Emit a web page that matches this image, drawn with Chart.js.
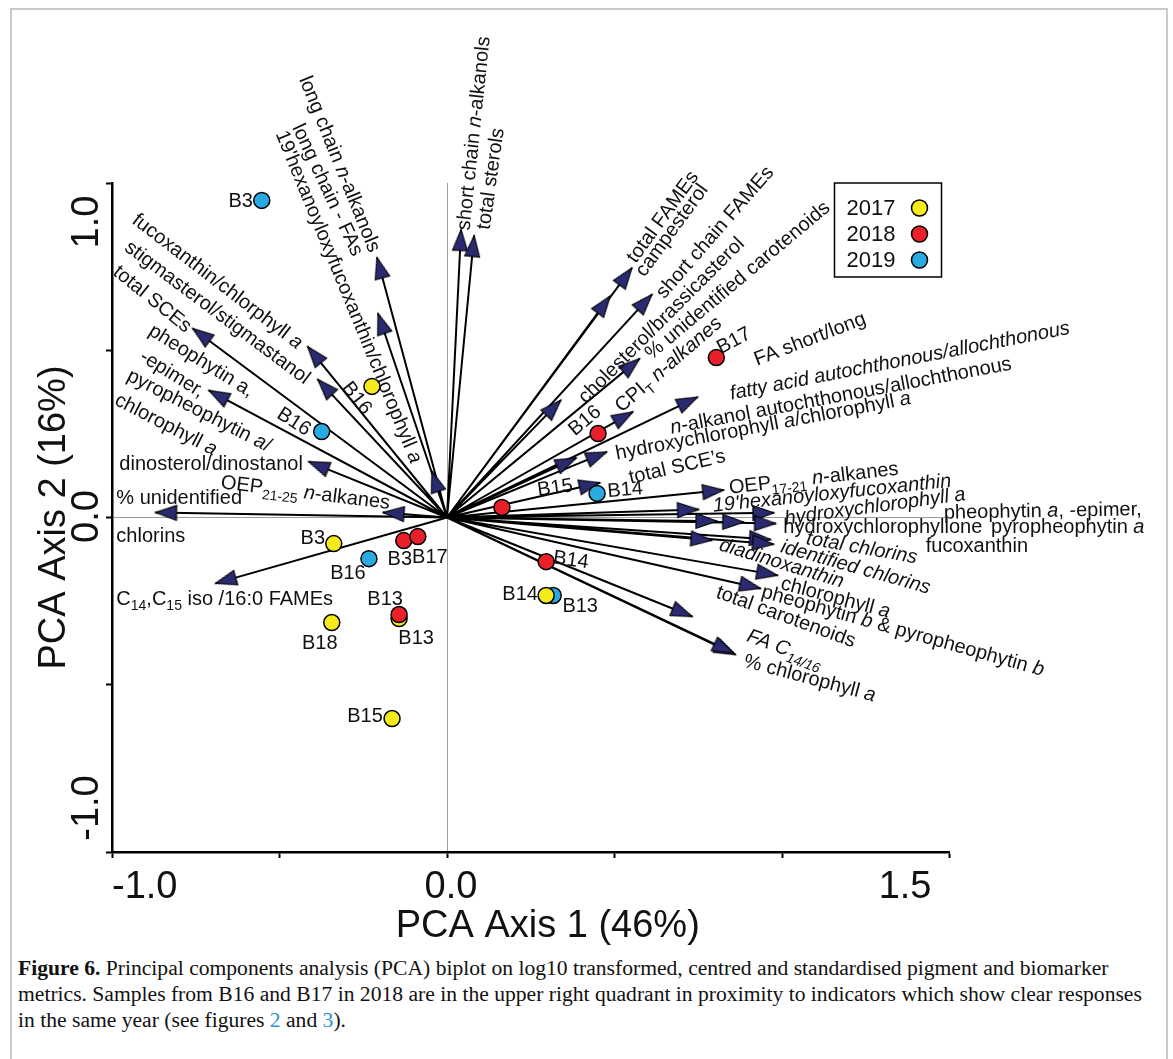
<!DOCTYPE html>
<html>
<head>
<meta charset="utf-8">
<script src="https://cdn.jsdelivr.net/npm/chart.js@4.4.1/dist/chart.umd.min.js"></script>
<style>
  html, body { margin: 0; padding: 0; background: #fff; }
  #wrap { position: relative; width: 1173px; height: 1059px; overflow: hidden; }
  #frame { position: absolute; left: 10px; top: 8px; width: 1154px; height: 1100px; border: 2px solid #c9c9c9; }
  canvas { position: absolute; left: 0; top: 0; }
  #caption { position: absolute; left: 18px; top: 955px; font: 21.6px/26px "Liberation Serif", "Times New Roman", serif; color: #111; white-space: nowrap; }
  #caption a { color: #2b8fd6; text-decoration: none; }
</style>
</head>
<body>
<div id="wrap">
  <div id="frame"></div>
  <canvas id="pca" width="1173" height="945"></canvas>
  <div id="caption"><b>Figure 6.</b> Principal components analysis (PCA) biplot on log10 transformed, centred and standardised pigment and biomarker<br>metrics. Samples from B16 and B17 in 2018 are in the upper right quadrant in proximity to indicators which show clear responses<br>in the same year (see figures <a>2</a> and <a>3</a>).</div>
</div>
<script>
// sample scores (site, year, axis 1, axis 2)
const sampleSites = ["B3", "B16", "B16", "B3", "B3", "B17", "B16", "B13", "B13", "B18", "B15", "B17", "B16", "B14", "B15", "B14", "B13", "B14"];
const sampleYears = [2019, 2017, 2019, 2017, 2018, 2018, 2019, 2017, 2018, 2017, 2017, 2018, 2018, 2019, 2018, 2018, 2019, 2017];
const samplePc1 = [-0.553, -0.224, -0.374, -0.338, -0.129, -0.087, -0.233, -0.143, -0.143, -0.344, -0.164, 0.804, 0.451, 0.448, 0.164, 0.296, 0.317, 0.296];
const samplePc2 = [0.948, 0.392, 0.257, -0.078, -0.069, -0.057, -0.123, -0.302, -0.290, -0.314, -0.601, 0.478, 0.251, 0.072, 0.030, -0.132, -0.233, -0.233];

const years = [2017, 2018, 2019];
const yearColours = ["#f4ea1c", "#e8202a", "#29abe2"];

// variable loadings (arrow tips)
const variableNames = [
  "long chain n-alkanols", "long chain - FAs", "19'hexanoyloxyfucoxanthin/chlorophyll a",
  "fucoxanthin/chlorphyll a", "stigmasterol/stigmastanol", "total SCEs",
  "pheophytin a, -epimer, pyropheophytin a/chlorophyll a", "dinosterol/dinostanol",
  "OEP21-25 n-alkanes", "% unidentified chlorins", "C14,C15 iso /16:0 FAMEs",
  "short chain n-alkanols", "total sterols", "total FAMEs", "campesterol",
  "short chain FAMEs", "cholesterol/brassicasterol", "% unidentified carotenoids",
  "CPIT n-alkanes", "fatty acid autochthonous/allochthonous",
  "n-alkanol autochthonous/allochthonous", "hydroxychlorophyll a/chlorophyll a",
  "total SCE's", "OEP17-21 n-alkanes", "19'hexanoyloxyfucoxanthin", "hydroxychlorophyll a",
  "pheophytin a, -epimer, pyropheophytin a", "hydroxychlorophyllone", "fucoxanthin",
  "diadinoxanthin", "total chlorins", "identified chlorins", "chlorophyll a",
  "pheophytin b & pyropheophytin b", "total carotenoids", "FA C14/16", "% chlorophyll a"
];
const variablePc1 = [-0.209, -0.206, -0.045, -0.416, -0.386, -0.759, -0.711, -0.413, -0.191, -0.870, -0.691,
  0.042, 0.081, 0.552, 0.487, 0.612, 0.340, 0.575, 0.555, 0.748, 0.386, 0.477, 0.457, 0.826, 0.751, 0.976,
  0.806, 0.886, 0.981, 0.791, 0.966, 0.975, 0.987, 0.936, 0.732, 0.861, 0.855];
const variablePc2 = [0.777, 0.610, 0.138, 0.511, 0.413, 0.565, 0.380, 0.167, 0.015, 0.015, -0.197,
  0.861, 0.843, 0.746, 0.662, 0.667, 0.351, 0.475, 0.316, 0.360, 0.178, 0.196, 0.104, 0.082, 0.024, 0.014,
  -0.011, -0.014, -0.018, -0.068, -0.066, -0.080, -0.173, -0.212, -0.296, -0.410, -0.405];

const xTickLabels = [-1.0, 0.0, 1.5];
const yTickLabels = [-1.0, 0.0, 1.0];

// label placement: [text, axis1, axis2, angle, align]  (*italic*, _{sub})
const variableLabels = [
  ["long chain *n*-alkanols", -0.317, 1.058, 68],
  ["long chain - FAs", -0.353, 0.981, 65],
  ["19'hexanoyloxyfucoxanthin/chlorophyll *a*", -0.290, 0.661, 67.7],
  ["fucoxanthin/chlorphyll *a*", -0.683, 0.709, 37.5],
  ["stigmasterol/stigmastanol", -0.683, 0.616, 36.8],
  ["total SCEs", -0.877, 0.656, 39],
  ["pheophytin a,", -0.731, 0.472, 32],
  ["-epimer,", -0.818, 0.433, 32],
  ["pyropheophytin *a*/", -0.738, 0.323, 27],
  ["chlorophyll *a*", -0.837, 0.281, 27.5],
  ["dinosterol/dinostanol", -0.978, 0.164, 0, "left"],
  ["OEP_{21-25} *n*-alkanes", -0.422, 0.078, 7],
  ["% unidentified", -0.987, 0.063, 0, "left"],
  ["chlorins", -0.987, -0.051, 0, "left"],
  ["C_{14},C_{15} iso /16:0 FAMEs", -0.987, -0.239, 0, "left"],
  ["short chain *n*-alkanols", 0.076, 1.149, -84],
  ["total sterols", 0.127, 1.013, -82],
  ["total FAMEs", 0.641, 0.901, -54],
  ["campesterol", 0.668, 0.861, -54],
  ["short chain FAMEs", 0.797, 0.855, -49],
  ["cholesterol/brassicasterol", 0.637, 0.592, -45],
  ["% unidentified carotenoids", 0.865, 0.712, -40],
  ["CPI_{T} *n-alkanes*", 0.659, 0.460, -41],
  ["FA short/long", 1.082, 0.537, -21],
  ["*fatty acid autochthonous/allochthonous*", 1.351, 0.472, -11],
  ["*n*-alkanol autochthonous/allochthonous", 1.175, 0.368, -10.7],
  ["hydroxychlorophyll *a*/chlorophyll *a*", 0.943, 0.278, -10.7],
  ["total SCE\u2019s", 0.686, 0.155, -13],
  ["OEP_{17-21} *n*-alkanes", 1.094, 0.121, -6.4],
  ["*19'hexanoyloxyfucoxanthin*", 1.149, 0.076, -6],
  ["*hydroxychlorophyll a*", 1.277, 0.037, -7.8],
  ["pheophytin *a*, -epimer,", 1.483, 0.018, -1, "left"],
  ["hydroxychlorophyllone", 1.004, -0.024, 0, "left"],
  ["pyropheophytin *a*", 1.624, -0.024, 0, "left"],
  ["fucoxanthin", 1.429, -0.081, 0, "left"],
  ["*total chlorins*", 1.239, -0.087, 10],
  ["*identified chlorins*", 1.221, -0.145, 15.7],
  ["*diadinoxanthin*", 1.000, -0.133, 17],
  ["chlorophyll *a*", 1.161, -0.236, 15],
  ["pheophytin *b* & pyropheophytin *b*", 1.362, -0.335, 15.7],
  ["total carotenoids", 1.013, -0.293, 20],
  ["*FA C_{14/16}*", 1.010, -0.389, 20],
  ["% chlorophyll *a*", 1.084, -0.477, 15]
];

// sample label offsets from the point, px: [dx, dy, angle]
const sampleLabelLayout = [
  [-21, -1, 0], [-14, 11, 52], [-27, -11, 33], [-21, -7, 0], [-4, 17, 0], [12, 19, 0],
  [-21, 13, 0], [17, 18, 0], [-14, -17, 0], [-12, 19, 0], [-27, -4, 0], [17, -18, -28],
  [-14, -14, -40], [28, -5, -5], [53, -21, -8], [25, -3, 8], [27, 9, 0], [-26, -3, 0]
];

const SANS = '"Liberation Sans", Arial, Helvetica, sans-serif';

function parseRich(str) {
  const runs = [];
  let italic = false;
  let buf = "";
  const push = () => {
    if (buf) runs.push({ t: buf, italic, sub: false });
    buf = "";
  };
  for (let i = 0; i < str.length; i++) {
    const ch = str[i];
    if (ch === "*") {
      push();
      italic = !italic;
    } else if (ch === "_" && str[i + 1] === "{") {
      push();
      const end = str.indexOf("}", i);
      runs.push({ t: str.slice(i + 2, end), italic, sub: true });
      i = end;
    } else {
      buf += ch;
    }
  }
  push();
  return runs;
}

function drawRich(ctx, str, x, y, angle, align, size) {
  const runs = parseRich(str);
  const fontFor = (r) => `${r.italic ? "italic " : ""}${r.sub ? Math.round(size * 0.68) : size}px ${SANS}`;
  let total = 0;
  runs.forEach((r) => {
    ctx.font = fontFor(r);
    r.w = ctx.measureText(r.t).width;
    total += r.w;
  });
  ctx.save();
  ctx.translate(x, y);
  ctx.rotate((angle * Math.PI) / 180);
  ctx.textBaseline = "alphabetic";
  ctx.textAlign = "left";
  let cx = align === "left" ? 0 : align === "right" ? -total : -total / 2;
  runs.forEach((r) => {
    ctx.font = fontFor(r);
    ctx.fillText(r.t, cx, size * 0.36 + (r.sub ? size * 0.28 : 0));
    cx += r.w;
  });
  ctx.restore();
}

function makeArrowHead() {
  const c = document.createElement("canvas");
  c.width = 50;
  c.height = 50;
  const g = c.getContext("2d");
  g.beginPath();
  g.moveTo(25, 25);
  g.lineTo(4, 17.5);
  g.lineTo(4, 32.5);
  g.closePath();
  g.fillStyle = "#2a2a70";
  g.fill();
  g.lineWidth = 1.2;
  g.strokeStyle = "#000";
  g.stroke();
  return c;
}
const arrowHead = makeArrowHead();

// one line dataset: origin -> tip, gap, origin -> tip, ...
const arrowData = [];
variableNames.forEach((name, i) => {
  arrowData.push({ x: 0, y: 0 });
  arrowData.push({ x: variablePc1[i], y: variablePc2[i] });
  arrowData.push({ x: 0, y: null });
});

const sampleData = sampleSites.map((site, i) => ({ x: samplePc1[i], y: samplePc2[i] }));
const sampleColours = sampleYears.map((yr) => yearColours[years.indexOf(yr)]);

const zeroGrid = (c) => (c.tick && c.tick.value === 0 ? "#9c9c9c" : "rgba(0,0,0,0)");

const annotations = {
  id: "annotations",
  afterDatasetsDraw(chart) {
    const { ctx, scales: { x, y } } = chart;
    ctx.save();
    ctx.fillStyle = "#111";
    variableLabels.forEach(([text, vx, vy, angle, align]) => {
      drawRich(ctx, text, x.getPixelForValue(vx), y.getPixelForValue(vy), angle, align || "center", 20);
    });
    ctx.restore();
  },
  afterDraw(chart) {
    const { ctx, chartArea, scales: { x, y } } = chart;
    ctx.save();
    ctx.fillStyle = "#111";

    // sample labels
    sampleSites.forEach((site, i) => {
      const [dx, dy, angle] = sampleLabelLayout[i];
      drawRich(ctx, site, x.getPixelForValue(samplePc1[i]) + dx, y.getPixelForValue(samplePc2[i]) + dy, angle, "center", 20);
    });

    // tick labels
    ctx.font = `38px ${SANS}`;
    ctx.textBaseline = "middle";
    const xAligns = ["left", "center", "right"];
    const xShift = [0, 4, -18];
    xTickLabels.forEach((v, i) => {
      ctx.textAlign = xAligns[i];
      ctx.fillText(v.toFixed(1), x.getPixelForValue(v) + xShift[i], chartArea.bottom + 36);
    });
    const yShift = [-44, -1, 39];
    yTickLabels.forEach((v, i) => {
      ctx.save();
      ctx.translate(chartArea.left - 24, y.getPixelForValue(v) + yShift[i]);
      ctx.rotate(-Math.PI / 2);
      ctx.textAlign = "center";
      ctx.fillText(v.toFixed(1), 0, 0);
      ctx.restore();
    });

    // axis titles
    ctx.textAlign = "center";
    ctx.fillText("PCA Axis 1 (46%)", (chartArea.left + chartArea.right) / 2 + 17, chartArea.bottom + 75);
    ctx.save();
    ctx.translate(chartArea.left - 57, (chartArea.top + chartArea.bottom) / 2);
    ctx.rotate(-Math.PI / 2);
    ctx.fillText("PCA Axis 2 (16%)", 0, 0);
    ctx.restore();

    // legend box
    const bx = chartArea.right - 115;
    const by = chartArea.top;
    ctx.lineWidth = 1.5;
    ctx.strokeStyle = "#000";
    ctx.strokeRect(bx, by, 107, 94);
    ctx.font = `22px ${SANS}`;
    ctx.textAlign = "left";
    years.forEach((yr, i) => {
      const ly = by + 25 + i * 26;
      ctx.fillStyle = "#111";
      ctx.fillText(String(yr), bx + 12, ly + 1);
      ctx.beginPath();
      ctx.arc(bx + 85, ly, 8, 0, Math.PI * 2);
      ctx.fillStyle = yearColours[i];
      ctx.fill();
      ctx.lineWidth = 1.5;
      ctx.stroke();
    });
    ctx.restore();
  }
};

new Chart(document.getElementById("pca"), {
  type: "scatter",
  data: {
    datasets: [
      {
        label: "samples",
        data: sampleData,
        order: 0,
        pointRadius: 8,
        pointBackgroundColor: sampleColours,
        pointBorderColor: "#000",
        pointBorderWidth: 1.5,
      },
      {
        label: "variables",
        data: arrowData,
        order: 1,
        showLine: true,
        borderColor: "#000",
        borderWidth: 2,
        spanGaps: false,
        pointStyle: arrowHead,
        pointRadius: (c) => (c.dataIndex % 3 === 1 ? 8 : 0),
        pointRotation: (c) => {
          const i = Math.floor(c.dataIndex / 3);
          const { x, y } = c.chart.scales;
          const dx = x.getPixelForValue(variablePc1[i]) - x.getPixelForValue(0);
          const dy = y.getPixelForValue(variablePc2[i]) - y.getPixelForValue(0);
          return (Math.atan2(dy, dx) * 180) / Math.PI;
        },
      },
    ],
  },
  options: {
    responsive: false,
    animation: false,
    events: [],
    layout: { padding: { left: 106, right: 223.5, top: 183, bottom: 87 } },
    plugins: { legend: { display: false }, tooltip: { enabled: false } },
    scales: {
      x: {
        type: "linear",
        min: -1,
        max: 1.5,
        ticks: { stepSize: 0.5, display: false },
        grid: { color: zeroGrid, lineWidth: 1, tickLength: 6, tickColor: "#000", tickWidth: 2 },
        border: { display: true, color: "#000", width: 2.5 },
      },
      y: {
        type: "linear",
        min: -1,
        max: 1,
        ticks: { stepSize: 0.5, display: false },
        grid: { color: zeroGrid, lineWidth: 1, tickLength: 6, tickColor: "#000", tickWidth: 2 },
        border: { display: true, color: "#000", width: 2.5 },
      },
    },
  },
  plugins: [annotations],
});
</script>
</body>
</html>
